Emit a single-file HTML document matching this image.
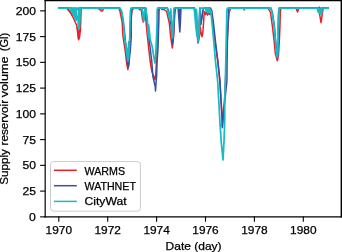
<!DOCTYPE html>
<html><head><meta charset="utf-8"><style>
html,body{margin:0;padding:0;background:#fff;}
svg{display:block;will-change:transform;}
text{font-family:"Liberation Sans",sans-serif;font-size:11px;fill:#000;stroke:#000;stroke-width:0.25px;}
</style></head><body>
<svg width="342" height="252" viewBox="0 0 342 252">
<rect x="0" y="0" width="342" height="252" fill="#fff"/>
<clipPath id="ax"><rect x="44.9" y="0.5" width="296.1" height="216.5"/></clipPath>
<g clip-path="url(#ax)">
<polyline points="58.8,8.1 67.0,8.1 67.5,9.0 69.5,11.0 71.0,13.0 73.6,18.5 76.7,25.5 77.8,33.5 78.6,39.7 79.6,37.0 80.4,30.0 80.8,20.0 81.0,11.0 81.4,8.1 97.0,8.1 99.5,9.3 101.2,11.0 102.5,10.9 103.6,8.1 118.5,8.1 119.8,10.5 122.1,21.5 123.0,36.5 125.3,51.5 126.7,63.5 127.9,69.6 128.8,64.0 129.5,50.0 130.5,30.0 131.3,15.0 132.3,8.1 133.0,9.4 134.0,8.1 138.7,8.1 139.5,9.8 140.3,8.1 140.8,8.1 141.5,11.5 142.5,19.5 143.3,22.0 144.0,18.0 144.8,11.5 145.1,9.1 145.6,17.0 146.9,31.5 148.5,46.5 150.2,61.5 152.0,72.0 155.0,79.6 155.8,74.0 156.5,60.0 157.5,30.0 158.3,8.1 161.0,8.1 162.0,9.5 164.0,9.5 166.7,11.5 169.4,23.5 170.5,35.5 172.3,47.9 173.3,40.0 174.0,30.0 174.6,15.0 175.0,11.5 175.5,8.1 194.3,8.1 195.6,15.5 196.3,23.5 197.0,33.5 198.0,43.0 199.5,36.0 199.9,30.0 200.4,27.0 201.0,33.0 202.0,36.7 202.8,33.0 203.5,23.5 204.0,15.5 204.6,11.7 205.5,14.5 206.5,12.0 207.5,15.0 208.5,12.5 209.5,14.5 210.5,13.0 211.5,15.0 213.0,25.0 215.0,42.0 217.8,61.5 219.8,81.5 221.2,101.5 222.0,120.0 222.2,126.4 223.0,115.0 224.5,100.0 225.5,80.0 226.5,60.0 227.5,35.0 228.5,20.0 229.2,12.0 230.0,10.5 230.6,8.1 243.6,8.1 244.3,9.8 245.0,8.1 268.0,8.1 270.5,12.5 272.3,25.5 274.2,41.5 275.3,53.5 277.4,60.8 278.5,55.0 279.3,41.5 280.0,25.5 280.3,12.5 280.8,8.1 296.0,8.1 297.5,11.9 299.0,8.1 317.3,8.1 318.3,10.5 319.6,14.0 320.4,19.0 321.0,22.7 321.6,19.0 322.2,14.0 322.8,10.5 323.4,8.1 328.0,8.1" fill="none" stroke="#e8202a" stroke-width="1.5" stroke-linejoin="round" stroke-linecap="square"/>
<polyline points="77.5,28.0 78.5,38.5 79.6,28.0" fill="none" stroke="#e8202a" stroke-width="1.5" stroke-linejoin="round" stroke-linecap="square"/>
<polyline points="67.2,8.8 68.9,10.8 70.5,12.8 72.3,15.8" fill="none" stroke="#e8202a" stroke-width="1.5" stroke-linejoin="round" stroke-linecap="square"/>
<polyline points="58.8,8.1 70.5,8.1 72.5,12.0 74.5,15.5 75.9,19.0 76.4,9.0 79.1,9.0 79.3,27.0 79.7,8.1 120.0,8.1 122.0,13.0 124.3,30.0 126.3,50.0 127.5,63.5 128.5,66.6 129.5,58.0 130.2,51.5 131.3,36.5 131.1,21.5 131.8,10.5 132.6,8.1 145.8,8.1 147.0,20.0 148.0,31.5 150.0,46.5 151.8,61.5 152.9,76.5 155.2,86.5 155.5,91.0 156.3,80.0 156.6,76.5 157.1,61.5 158.1,46.5 158.5,31.5 158.9,19.5 159.0,11.5 159.4,8.1 167.5,8.1 169.5,14.0 171.0,25.0 172.0,33.0 172.5,44.0 173.4,37.0 173.9,30.0 174.5,15.0 174.8,11.5 175.3,8.1 178.1,8.1 179.3,25.0 179.8,32.0 180.3,25.0 181.0,8.1 179.8,31.0 178.9,8.1 179.5,8.1 179.9,29.0 180.4,8.1 194.5,8.1 196.0,17.0 197.0,27.0 198.0,38.0 198.9,30.0 199.5,12.0 200.0,8.0 200.7,25.0 203.3,9.0 204.0,8.1 210.5,8.1 211.8,10.5 213.2,20.5 215.5,41.5 217.9,61.5 220.1,81.5 221.0,101.5 222.5,121.5 222.4,127.8 223.5,115.0 224.9,100.0 226.9,81.5 227.1,61.5 227.4,41.5 228.2,20.5 228.4,10.5 229.0,8.1 270.5,8.1 272.3,12.0 274.3,25.0 276.0,45.0 277.4,58.0 278.2,50.0 278.4,35.0 278.6,15.0 279.2,8.1 318.6,8.1 319.3,7.2 320.0,8.1 320.5,12.0 321.3,8.1 328.0,8.1" fill="none" stroke="#3a4fa3" stroke-width="1.5" stroke-linejoin="round" stroke-linecap="square"/>
<polyline points="199.9,12.0 200.6,24.0 201.5,20.0 202.7,11.0" fill="none" stroke="#3a4fa3" stroke-width="1.5" stroke-linejoin="round" stroke-linecap="square"/>
<polyline points="58.8,8.0 69.8,8.0 70.6,10.5 71.2,8.0 71.6,11.0 72.1,8.0 72.6,13.5 73.1,8.0 73.6,15.5 74.1,8.0 74.6,17.5 75.1,8.0 75.4,19.0 75.8,8.0 76.2,20.5 76.6,8.0 79.2,8.0 78.2,18.0 78.2,25.0 78.9,29.3 79.7,25.0 79.9,15.0 80.3,8.0 119.5,8.0 121.4,10.5 123.4,21.5 124.4,36.5 126.5,51.5 128.0,61.0 128.6,58.0 129.0,51.5 129.8,36.5 130.0,21.5 130.5,10.5 131.0,8.0 141.6,8.0 142.6,11.5 143.5,19.5 143.8,21.0 144.3,17.0 144.6,11.5 145.2,8.0 145.6,8.0 146.2,11.5 147.3,19.5 148.0,31.5 148.8,38.0 148.6,25.0 149.4,31.5 150.3,40.0 152.2,46.5 154.0,58.0 155.0,63.0 155.8,55.0 156.1,46.5 156.8,31.5 157.1,19.5 157.1,11.5 157.5,8.0 167.0,8.0 168.0,11.5 169.0,16.0 170.0,20.0 170.8,9.0 171.3,18.0 171.8,23.5 172.3,35.5 172.6,38.0 173.2,30.0 173.6,20.0 173.7,11.5 174.0,8.0 194.0,8.0 194.6,12.0 195.3,20.0 196.0,28.0 197.0,36.0 197.4,30.0 196.6,18.0 196.4,9.5 196.9,16.0 197.3,24.0 197.8,33.5 198.2,41.8 199.2,33.0 199.6,23.5 199.8,15.0 200.0,8.0 205.3,8.0 206.3,11.5 206.9,8.0 207.7,12.5 208.3,8.0 209.0,12.5 209.5,8.5 210.2,12.0 210.6,10.0 211.8,20.5 213.8,41.5 215.5,61.5 217.7,81.5 218.8,101.5 219.9,121.5 221.2,141.5 223.0,160.0 224.0,141.5 224.7,121.5 224.7,101.5 225.3,81.5 225.8,61.5 226.2,41.5 226.7,20.5 226.8,10.5 227.5,8.0 243.6,8.0 244.2,9.8 244.9,8.0 271.0,8.0 272.0,12.5 274.0,25.5 275.5,41.5 276.5,53.5 277.3,57.3 277.8,53.5 278.2,41.5 278.0,25.5 278.5,12.5 279.2,8.0 317.3,8.0 318.0,11.5 318.5,8.0 319.2,12.5 319.6,9.0 320.3,13.5 320.8,9.0 321.2,14.5 321.7,12.0 322.3,8.0 328.0,8.0" fill="none" stroke="#17bcc2" stroke-width="1.75" stroke-linejoin="round" stroke-linecap="square"/>
<polyline points="100.0,8.0 101.5,9.3 103.0,8.0" fill="none" stroke="#17bcc2" stroke-width="1.75" stroke-linejoin="round" stroke-linecap="square"/>
<polyline points="76.5,19.5 77.9,16.4 79.4,19.5" fill="none" stroke="#17bcc2" stroke-width="1.75" stroke-linejoin="round" stroke-linecap="square"/>
<polyline points="125.8,44.0 127.4,52.0 128.1,58.0 128.5,50.0 128.8,42.0" fill="none" stroke="#17bcc2" stroke-width="1.75" stroke-linejoin="round" stroke-linecap="square"/>
</g>
<line x1="45.18" y1="-1" x2="45.18" y2="217.5" stroke="#000" stroke-width="1.2"/>
<line x1="341.3" y1="-1" x2="341.3" y2="217.5" stroke="#000" stroke-width="1.4"/>
<line x1="44.5" y1="0.55" x2="342" y2="0.55" stroke="#000" stroke-width="1.3"/>
<line x1="44.5" y1="216.85" x2="342" y2="216.85" stroke="#000" stroke-width="1.3"/>
<line x1="40.10" y1="216.85" x2="45.20" y2="216.85" stroke="#000" stroke-width="1.1"/>
<text x="35.90" y="220.90" text-anchor="end" textLength="6.8" lengthAdjust="spacingAndGlyphs">0</text>
<line x1="40.10" y1="191.10" x2="45.20" y2="191.10" stroke="#000" stroke-width="1.1"/>
<text x="35.90" y="195.15" text-anchor="end" textLength="13.5" lengthAdjust="spacingAndGlyphs">25</text>
<line x1="40.10" y1="165.35" x2="45.20" y2="165.35" stroke="#000" stroke-width="1.1"/>
<text x="35.90" y="169.40" text-anchor="end" textLength="13.5" lengthAdjust="spacingAndGlyphs">50</text>
<line x1="40.10" y1="139.60" x2="45.20" y2="139.60" stroke="#000" stroke-width="1.1"/>
<text x="35.90" y="143.65" text-anchor="end" textLength="13.5" lengthAdjust="spacingAndGlyphs">75</text>
<line x1="40.10" y1="113.85" x2="45.20" y2="113.85" stroke="#000" stroke-width="1.1"/>
<text x="35.90" y="117.90" text-anchor="end" textLength="20.2" lengthAdjust="spacingAndGlyphs">100</text>
<line x1="40.10" y1="88.10" x2="45.20" y2="88.10" stroke="#000" stroke-width="1.1"/>
<text x="35.90" y="92.15" text-anchor="end" textLength="20.2" lengthAdjust="spacingAndGlyphs">125</text>
<line x1="40.10" y1="62.35" x2="45.20" y2="62.35" stroke="#000" stroke-width="1.1"/>
<text x="35.90" y="66.40" text-anchor="end" textLength="20.2" lengthAdjust="spacingAndGlyphs">150</text>
<line x1="40.10" y1="36.60" x2="45.20" y2="36.60" stroke="#000" stroke-width="1.1"/>
<text x="35.90" y="40.65" text-anchor="end" textLength="20.2" lengthAdjust="spacingAndGlyphs">175</text>
<line x1="40.10" y1="10.85" x2="45.20" y2="10.85" stroke="#000" stroke-width="1.1"/>
<text x="35.90" y="14.90" text-anchor="end" textLength="20.2" lengthAdjust="spacingAndGlyphs">200</text>
<line x1="58.80" y1="216.50" x2="58.80" y2="221.70" stroke="#000" stroke-width="1.1"/>
<text x="45.60" y="234" textLength="26.4" lengthAdjust="spacingAndGlyphs">1970</text>
<line x1="107.70" y1="216.50" x2="107.70" y2="221.70" stroke="#000" stroke-width="1.1"/>
<text x="94.50" y="234" textLength="26.4" lengthAdjust="spacingAndGlyphs">1972</text>
<line x1="156.60" y1="216.50" x2="156.60" y2="221.70" stroke="#000" stroke-width="1.1"/>
<text x="143.40" y="234" textLength="26.4" lengthAdjust="spacingAndGlyphs">1974</text>
<line x1="205.50" y1="216.50" x2="205.50" y2="221.70" stroke="#000" stroke-width="1.1"/>
<text x="192.30" y="234" textLength="26.4" lengthAdjust="spacingAndGlyphs">1976</text>
<line x1="254.40" y1="216.50" x2="254.40" y2="221.70" stroke="#000" stroke-width="1.1"/>
<text x="241.20" y="234" textLength="26.4" lengthAdjust="spacingAndGlyphs">1978</text>
<line x1="303.30" y1="216.50" x2="303.30" y2="221.70" stroke="#000" stroke-width="1.1"/>
<text x="290.10" y="234" textLength="26.4" lengthAdjust="spacingAndGlyphs">1980</text>
<text x="165.6" y="249.8" textLength="56" lengthAdjust="spacingAndGlyphs">Date (day)</text>
<text transform="translate(8.3,184.8) rotate(-90)" x="0" y="0" textLength="35.6" lengthAdjust="spacingAndGlyphs">Supply</text>
<text transform="translate(8.3,145.5) rotate(-90)" x="0" y="0" textLength="45.6" lengthAdjust="spacingAndGlyphs">reservoir</text>
<text transform="translate(8.3,97.3) rotate(-90)" x="0" y="0" textLength="40.8" lengthAdjust="spacingAndGlyphs">volume</text>
<text transform="translate(8.3,51.3) rotate(-90)" x="0" y="0" textLength="18.4" lengthAdjust="spacingAndGlyphs">(Gl)</text>

<rect x="50.5" y="161.55" width="89.9" height="49.6" rx="3" ry="3" fill="#fff" fill-opacity="0.8" stroke="#cccccc" stroke-width="1"/>
<line x1="54.0" y1="170.3" x2="76.8" y2="170.3" stroke="#e8202a" stroke-width="1.5"/>
<line x1="54.0" y1="185.7" x2="76.8" y2="185.7" stroke="#3a4fa3" stroke-width="1.5"/>
<line x1="54.0" y1="201.4" x2="76.8" y2="201.4" stroke="#17bcc2" stroke-width="1.5"/>
<text x="84.5" y="174.6" textLength="40.6" lengthAdjust="spacingAndGlyphs">WARMS</text>
<text x="84.5" y="189.9" textLength="51.4" lengthAdjust="spacingAndGlyphs">WATHNET</text>
<text x="84.5" y="205.3" textLength="42" lengthAdjust="spacingAndGlyphs">CityWat</text>

</svg>
</body></html>
